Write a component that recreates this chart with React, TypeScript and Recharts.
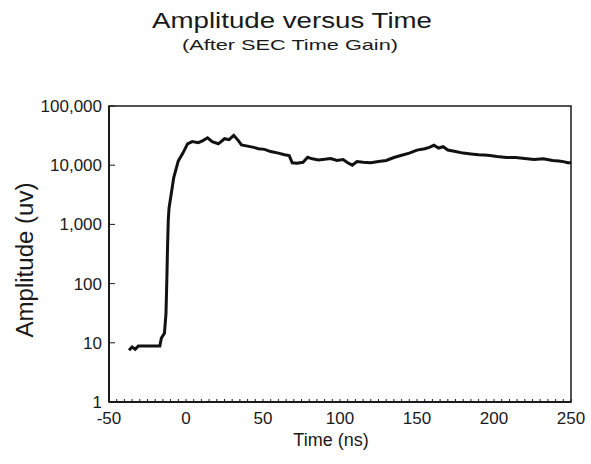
import { LineChart, Line, XAxis, YAxis, ReferenceArea } from "recharts";

// readings taken off the scanned trace
const times = [
  -37, -35, -33, -31, -28, -24, -20, -17, -16, -14, -13, -12.5, -12, -11.5, -11, -10, -8,
  -5, -2, 1, 4, 8, 11, 14, 17, 21, 25, 28, 31, 34, 36, 40, 44, 47, 51, 55, 60, 64, 67,
  69, 72, 76, 79, 82, 86, 90, 94, 98, 102, 105, 108, 111, 115, 120, 125, 130, 135, 140,
  145, 150, 155, 158, 161, 164, 167, 170, 175, 180, 185, 190, 196, 202, 208, 214, 220,
  226, 232, 238, 242, 245, 248, 250,
];
const amplitudes = [
  7.5, 8.5, 7.8, 8.8, 8.8, 8.8, 8.8, 8.8, 12, 14.5, 31, 100, 400, 1200, 1900, 2800, 6100,
  11800, 16000, 23000, 25000, 24000, 26000, 29000, 25000, 23000, 28000, 27000, 32000,
  26000, 22000, 21000, 20000, 19000, 18500, 17000, 16000, 15000, 14500, 11000, 10800,
  11200, 13600, 12800, 12300, 12600, 13000, 12000, 12500, 11000, 10000, 11500, 11200,
  11000, 11500, 12000, 13500, 14700, 16000, 18000, 19000, 20000, 21700, 19500, 20500,
  18000, 17000, 16000, 15500, 15000, 14700, 14000, 13500, 13500, 13000, 12500, 12800,
  12000, 11800, 11500, 11000, 11000,
];

const xTicks = Array.from({ length: 61 }, (_, i) => -50 + i * 5); // labelled every 50
const yTicks = [1, 10, 100, 1000, 10000, 100000];

const chartData = times.map((t, i) => ({ t, amp: amplitudes[i] }));

const font = "'Liberation Sans', Arial, sans-serif";
const ink = "#1a1a1a";

// bottom axis: short inward tick at every 5 ns, label at every 50
const XTick = (props: any) => {
  const { x, y, payload } = props;
  const major = payload.value % 50 === 0;
  return (
    <g>
      <line x1={x} x2={x} y1={y - 10} y2={y - 13} stroke={ink} />
      {major && (
        <text x={x} y={y} dy="0.71em" textAnchor="middle" fontSize={17} fill={ink}>
          {payload.value}
        </text>
      )}
    </g>
  );
};

const YTick = (props: any) => {
  const { x, y, payload } = props;
  return (
    <g>
      <line x1={x + 7} x2={x + 13} y1={y} y2={y} stroke={ink} />
      <text x={x} y={y} dy="0.355em" textAnchor="end" fontSize={17} fill={ink}>
        {Number(payload.value).toLocaleString("en-US")}
      </text>
    </g>
  );
};

export default function App() {
  return (
    <div style={{ position: "absolute", left: 0, top: 0, width: 591, height: 464, background: "#fff" }}>
      <LineChart
        width={591}
        height={464}
        data={chartData}
        margin={{ top: 106, right: 20, bottom: 32, left: 9 }}
        style={{ fontFamily: font }}
      >
        <XAxis
          dataKey="t"
          type="number"
          domain={[-50, 250]}
          ticks={xTicks}
          interval={0}
          allowDataOverflow
          height={30}
          tickSize={0}
          tickMargin={10}
          tickLine={false}
          axisLine={{ stroke: ink, strokeWidth: 2 }}
          tick={<XTick />}
        />
        <YAxis
          scale="log"
          domain={[1, 100000]}
          ticks={yTicks}
          interval={0}
          allowDataOverflow
          width={100}
          tickSize={0}
          tickMargin={7}
          tickLine={false}
          axisLine={{ stroke: ink, strokeWidth: 2 }}
          tick={<YTick />}
        />
        <ReferenceArea x1={-50} x2={250} y1={1} y2={100000} fill="none" stroke={ink} strokeWidth={1.5} />
        <Line
          type="linear"
          dataKey="amp"
          stroke="#111"
          strokeWidth={3}
          dot={false}
          isAnimationActive={false}
        />
      </LineChart>
      <svg
        width={591}
        height={464}
        style={{ position: "absolute", left: 0, top: 0, pointerEvents: "none", fontFamily: font }}
      >
        <text x={292} y={28} textAnchor="middle" fontSize={22.5} fill={ink} textLength={280} lengthAdjust="spacingAndGlyphs">
          Amplitude versus Time
        </text>
        <text x={290} y={50} textAnchor="middle" fontSize={14.5} fill={ink} textLength={216} lengthAdjust="spacingAndGlyphs">
          (After SEC Time Gain)
        </text>
        <text x={331} y={446} textAnchor="middle" fontSize={18} fill={ink}>
          Time (ns)
        </text>
        <text
          transform="translate(33,260) rotate(-90)"
          textAnchor="middle"
          fontSize={23}
          fill={ink}
          textLength={155}
          lengthAdjust="spacingAndGlyphs"
        >
          Amplitude (uv)
        </text>
      </svg>
    </div>
  );
}
